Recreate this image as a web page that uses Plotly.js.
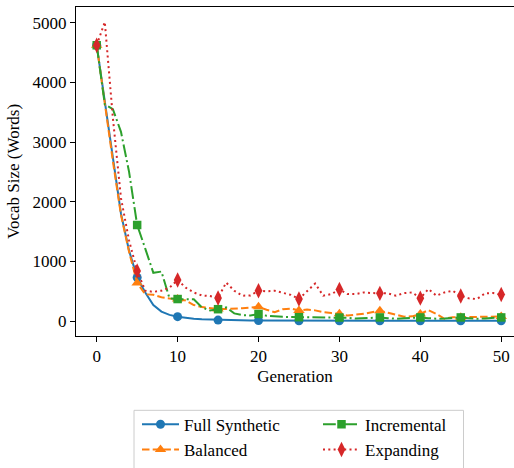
<!DOCTYPE html>
<html>
<head>
<meta charset="utf-8">
<script src="https://cdn.plot.ly/plotly-3.0.1.min.js"></script>
<style>html,body{margin:0;padding:0;background:#fff;}#chart{width:514px;height:468px;}
#chart svg text{font-family:"Liberation Serif","Times New Roman",serif !important;}</style>
</head>
<body>
<div id="chart"></div>
<script>
const generations = [0,1,2,3,4,5,6,7,8,9,10,11,12,13,14,15,16,17,18,19,20,21,22,23,24,25,26,27,28,29,30,31,32,33,34,35,36,37,38,39,40,41,42,43,44,45,46,47,48,49,50];
const fullSynthetic = [4620,3650,2700,1800,1180,730,480,270,160,105,75,55,40,30,25,18,15,13,11,10,9,8,8,7,7,7,7,6,6,6,6,6,6,5,5,5,5,5,5,5,5,5,5,5,5,5,5,5,5,5,5];
const balanced = [4620,3620,2680,1780,1160,640,450,440,400,380,370,345,270,235,220,205,205,205,215,225,240,190,150,200,210,177,195,180,150,135,122,94,105,122,150,175,140,110,75,80,120,185,120,40,65,66,66,70,66,75,77];
const incremental = [4620,3630,3550,3170,2500,1610,1215,810,830,380,370,370,365,230,180,200,230,130,100,95,120,90,77,72,68,66,63,60,58,57,60,55,42,45,55,62,50,40,50,55,62,50,40,45,55,62,50,40,45,55,62];
const expanding = [4620,5010,3400,2060,1350,840,510,490,510,560,690,560,480,430,420,387,646,509,426,430,509,500,509,470,440,371,500,630,426,453,530,453,453,481,470,465,465,426,470,481,385,536,426,481,509,420,381,370,465,470,445];
const seriesNames = ["Full Synthetic","Balanced","Incremental","Expanding"];
const xTickVals = [0,10,20,30,40,50];
const yTickVals = [0,1000,2000,3000,4000,5000];

const colors = ["#1f77b4","#ff7f0e","#2ca02c","#d62728"];
const dashes = ["solid","7.5px,3.2px","12.8px,3.2px,2px,3.2px","2px,3.3px"];
const symbols = ["circle","triangle-up","square","diamond-tall"];
const msizes = [9,10,8.5,11];
const allSeries = [fullSynthetic, balanced, incremental, expanding];
const legendIds = ["legend","legend2","legend3","legend4"];

function markColors(c, n){
  const a = [];
  for(let i=0;i<n;i++) a.push(i%5===0 ? c : "rgba(0,0,0,0)");
  return a;
}

const traces = allSeries.map((ys,k)=>({
  x: generations, y: ys, type: "scatter", mode: "lines+markers",
  name: seriesNames[k],
  legend: legendIds[k],
  line: {color: colors[k], width: 2, dash: dashes[k]},
  marker: {symbol: symbols[k], size: msizes[k], color: markColors(colors[k], ys.length), line: {width: 0}},
  hoverinfo: "skip"
}));

const FONT = "Liberation Serif";
const plotL = 76, plotR = 514, plotT = 7, plotB = 339;
const pw = plotR - plotL, ph = plotB - plotT;
function px2x(px){ return (px - plotL)/pw; }
function py2y(py){ return (plotB - py)/ph; }

function leg(px, py){
  return {x: px2x(px), y: py2y(py), xanchor: "left", yanchor: "middle",
    bgcolor: "rgba(0,0,0,0)", borderwidth: 0, itemwidth: 37};
}

const layout = {
  width: 514, height: 468,
  margin: {l: plotL, r: 514 - plotR, t: plotT, b: 468 - plotB},
  font: {family: FONT, size: 17, color: "#000"},
  paper_bgcolor: "#fff", plot_bgcolor: "#fff",
  showlegend: true,
  xaxis: {
    range: [-2.56, 51.58], tickvals: xTickVals, ticks: "outside", ticklen: 5, tickwidth: 1, tickcolor: "#000",
    showline: true, linecolor: "#000", linewidth: 1, mirror: true, showgrid: false, zeroline: false,
    title: {text: "Generation", standoff: 4, font: {size: 17}}
  },
  yaxis: {
    range: [-249, 5261], tickvals: yTickVals, ticks: "outside", ticklen: 5, tickwidth: 1, tickcolor: "#000",
    showline: true, linecolor: "#000", linewidth: 1, showgrid: false, zeroline: false,
    title: {text: "Vocab Size (Words)", standoff: 8, font: {size: 17}}
  },
  legend: leg(137, 428.5),
  legend2: leg(137, 454),
  legend3: leg(318, 428.5),
  legend4: leg(318, 454),
  shapes: [{type: "rect", xref: "paper", yref: "paper",
    x0: px2x(134), x1: px2x(463.5), y0: py2y(414), y1: py2y(520),
    line: {color: "#cccccc", width: 1}, fillcolor: "rgba(255,255,255,0.8)", layer: "below"}]
};

Plotly.newPlot("chart", traces, layout, {displayModeBar: false});
</script>
</body>
</html>
